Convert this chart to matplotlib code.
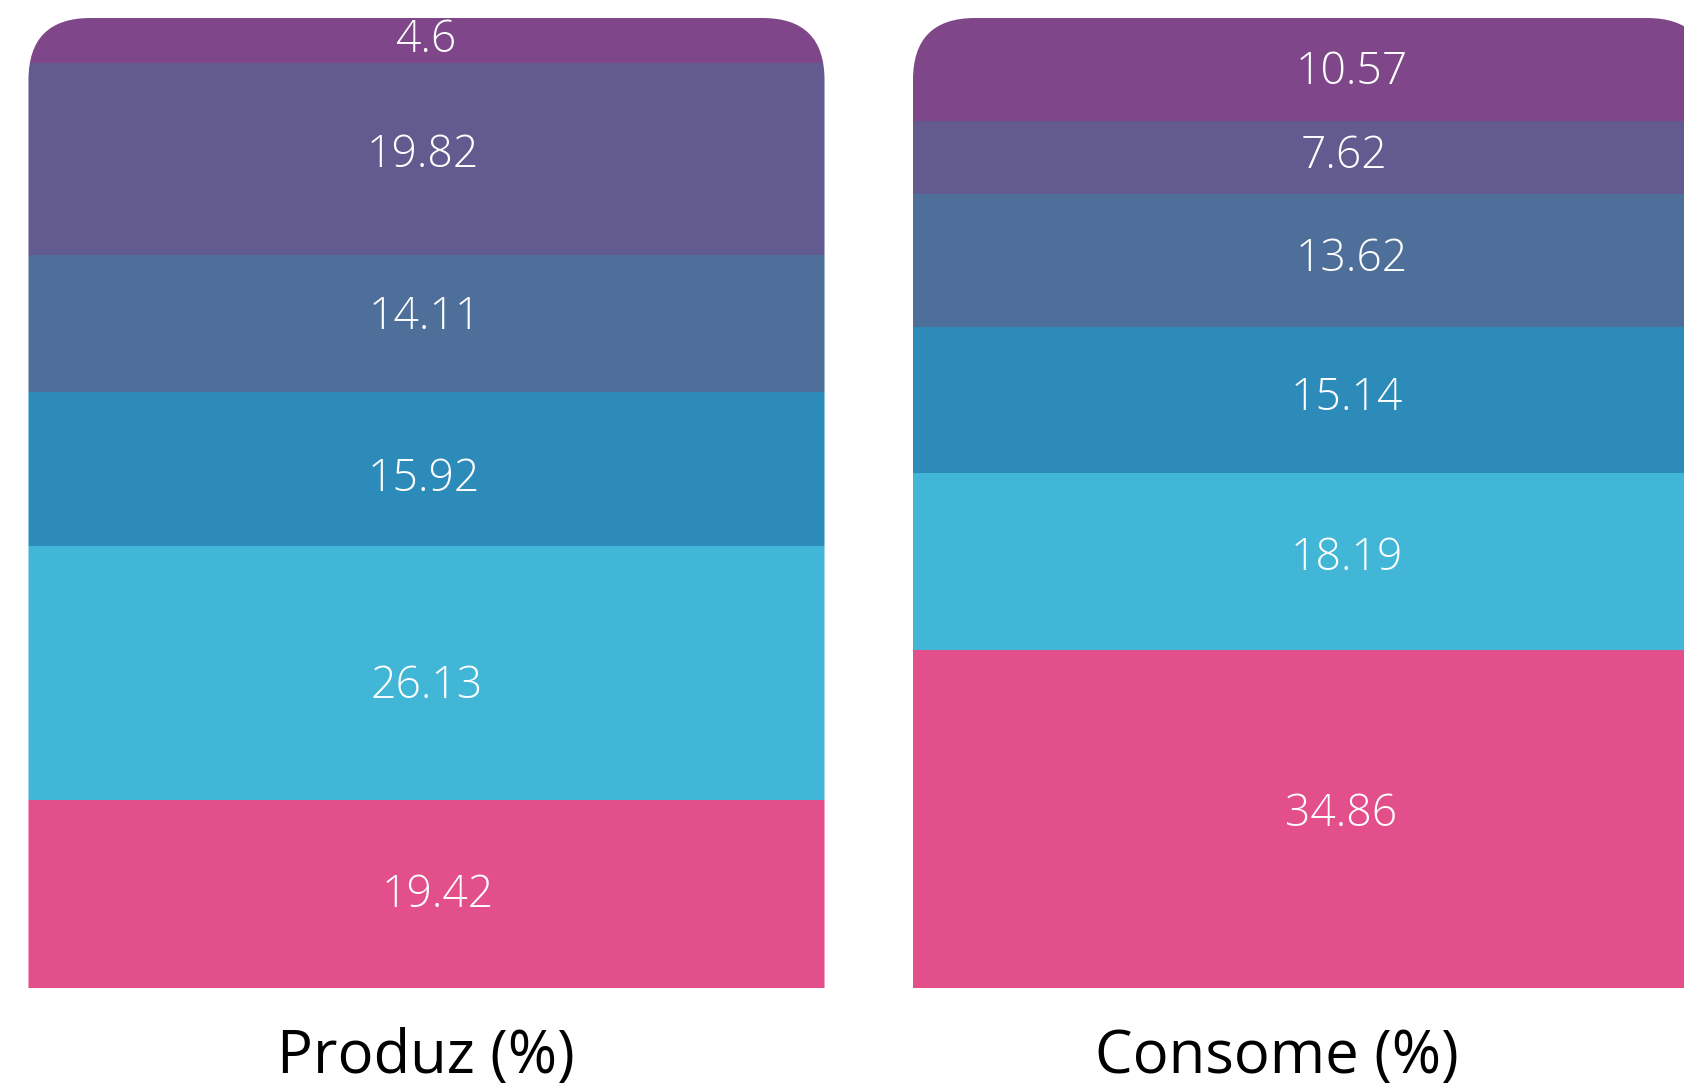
import numpy as np
import matplotlib
matplotlib.use("Agg")
import matplotlib.pyplot as plt
from matplotlib.patches import FancyBboxPatch

# shares per group, stacked bottom -> top
groups = ["Produz (%)", "Consome (%)"]
produz = [19.42, 26.13, 15.92, 14.11, 19.82, 4.6]
consome = [34.86, 18.19, 15.14, 13.62, 7.62, 10.57]
colors = ["#E24F8A", "#42B6D6", "#2D8BBA", "#4E6F99", "#635B8F", "#7F4789"]

W, H = 1684, 1085
fig = plt.figure(figsize=(W / 100, H / 100), dpi=100)
bottom_px, top_px = 97, 1067
ax = fig.add_axes([0, bottom_px / H, 1, (top_px - bottom_px) / H])

x = np.arange(len(groups))
width = 0.9
step_px = 884.5
x0_px = 426.5
ax.set_xlim(-x0_px / step_px, (W - x0_px) / step_px)
ax.set_ylim(0, 100)
ax.axis("off")

px_y = (top_px - bottom_px) / 100.0   # pixels per percent
r_px = 62
label_dx = [[11, 0, -3, -2, -4, -1], [30, 36, 36, 41, 33, 41]]  # px nudges
label_dy = [[-2, -14, -11, 6, 3, 0], [4, 3, 1, 1, 1, -3]]

for i, vals in enumerate([produz, consome]):
    # rounded top corners only: clip box runs below the baseline
    clip = FancyBboxPatch((x[i] - width / 2, -20), width, 120,
                          boxstyle="round,pad=0,rounding_size=%f" % (r_px / step_px),
                          mutation_aspect=step_px / px_y,
                          transform=ax.transData, facecolor="none", edgecolor="none")
    base = 0.0
    for j, v in enumerate(vals):
        bars = ax.bar(x[i], v, width, bottom=base, color=colors[j], linewidth=0)
        for b in bars:
            b.set_clip_path(clip)
        ax.text(x[i] + label_dx[i][j] / step_px, base + v / 2 + label_dy[i][j] / px_y,
                str(v), ha="center", va="center", color="white",
                fontsize=32, family="Open Sans", fontweight="light")
        base += v

# group names under the bars
name_dx = [-1, -34]
for i, g in enumerate(groups):
    ax.text(x[i] + name_dx[i] / step_px, (12 - bottom_px) / px_y, g,
            ha="center", va="baseline", color="black",
            fontsize=43, family="Open Sans", clip_on=False)

fig.savefig("out.png", dpi=100)
